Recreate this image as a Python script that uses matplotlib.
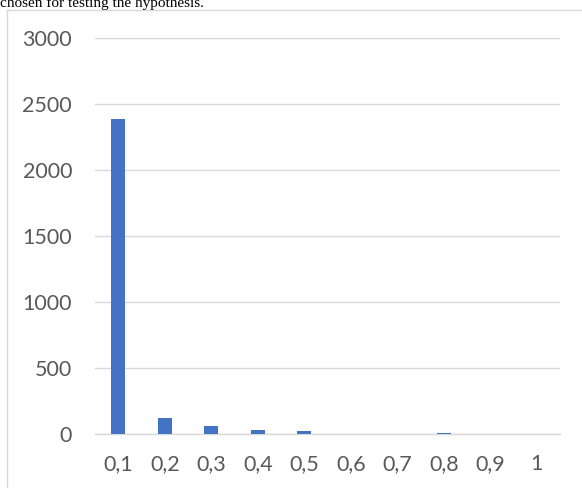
import numpy as np
import matplotlib.pyplot as plt
from matplotlib.lines import Line2D

categories = ['0,1', '0,2', '0,3', '0,4', '0,5', '0,6', '0,7', '0,8', '0,9', '1']
counts = [2390, 124, 66, 36, 24, 3, 5, 9, 5, 1]
yticks = [0, 500, 1000, 1500, 2000, 2500, 3000]

plt.rcParams['font.family'] = ['Lato', 'DejaVu Sans']

fig = plt.figure(figsize=(5.82, 4.88), dpi=100)
ax = fig.add_axes([95/582, (488-434.3)/488, 465/582, (434.3-38.3)/488])

x = np.arange(len(categories))
ax.bar(x, counts, width=0.3, color='#4472C4', zorder=3)

ax.set_xlim(-0.5, len(categories)-0.5)
ax.set_ylim(0, 3000)
ax.set_yticks(yticks)
ax.set_yticklabels([str(v) for v in yticks])
ax.set_xticks(x)
ax.set_xticklabels(categories)
ax.grid(axis='y', color='#D9D9D9', lw=1.0, zorder=0)
for s in ['top', 'right', 'left']:
    ax.spines[s].set_visible(False)
ax.spines['bottom'].set_color('#D9D9D9')
ax.spines['bottom'].set_linewidth(1.0)
ax.spines['bottom'].set_zorder(2)
ax.tick_params(axis='both', length=0, labelsize=15.5, labelcolor='#595959')
ax.tick_params(axis='y', pad=16.5)
ax.tick_params(axis='x', pad=14)

# chart frame (left and top edges visible)
fig.add_artist(Line2D([6.5/582, 6.5/582], [0, (488-9.5)/488], transform=fig.transFigure,
                      color='#D9D9D9', lw=1.0))
fig.add_artist(Line2D([6.5/582, 1], [(488-9.5)/488, (488-9.5)/488], transform=fig.transFigure,
                      color='#D9D9D9', lw=1.0))

# document text cut off above the chart
fig.text(0, (488-6.5)/488, 'chosen for testing the hypothesis.', family='Liberation Serif',
         fontsize=11, va='baseline', ha='left', color='black')

fig.savefig('out.png', dpi=100)
